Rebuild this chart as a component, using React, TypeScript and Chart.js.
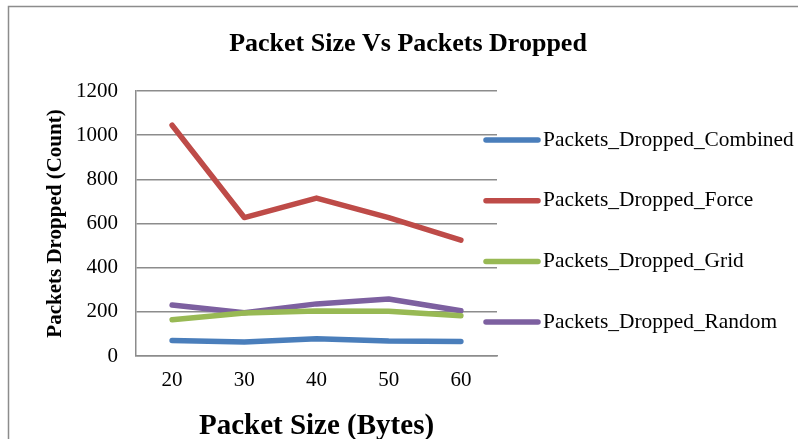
import React, { useEffect, useRef } from "react";
import { Chart, registerables } from "chart.js";

Chart.register(...registerables);

const categories = ["20", "30", "40", "50", "60"];
const combined = [70, 63, 78, 68, 66];
const force = [1045, 627, 715, 627, 525];
const grid = [164, 195, 204, 203, 182];
const random = [231, 196, 236, 258, 205];
const seriesNames = [
  "Packets_Dropped_Combined",
  "Packets_Dropped_Force",
  "Packets_Dropped_Grid",
  "Packets_Dropped_Random",
];
const seriesColors = ["#4A7EBB", "#BE4B48", "#98B954", "#7D60A0"];
const yTicks = [0, 200, 400, 600, 800, 1000, 1200];
const chartTitle = "Packet Size Vs Packets Dropped";

const FONT = "'Liberation Serif', 'Times New Roman', serif";

const frameAndLegend = {
  id: "frameAndLegend",
  afterDraw(chart: any) {
    const ctx = chart.ctx;
    ctx.save();
    // outer frame
    ctx.strokeStyle = "#8c8c8c";
    ctx.lineWidth = 1.5;
    ctx.beginPath();
    ctx.moveTo(8.5, 440);
    ctx.lineTo(8.5, 6.5);
    ctx.lineTo(800, 6.5);
    ctx.stroke();
    // title
    ctx.fillStyle = "#000";
    ctx.font = `bold 26px ${FONT}`;
    ctx.textAlign = "center";
    ctx.textBaseline = "middle";
    ctx.fillText(chartTitle, 408, 44);
    // legend
    const ds = chart.data.datasets;
    ctx.font = `21.4px ${FONT}`;
    ctx.textBaseline = "middle";
    ctx.textAlign = "left";
    ds.forEach((d: any, i: number) => {
      const y = 140 + i * 60.7;
      ctx.strokeStyle = d.borderColor;
      ctx.lineWidth = 5.5;
      ctx.lineCap = "round";
      ctx.beginPath();
      ctx.moveTo(486, y);
      ctx.lineTo(538, y);
      ctx.stroke();
      ctx.fillStyle = "#000";
      ctx.fillText(d.label, 543, y);
    });
    ctx.restore();
  },
};

export default function App() {
  const ref = useRef<HTMLCanvasElement>(null);
  useEffect(() => {
    if (!ref.current) return;
    const datasets = [combined, force, grid, random].map((data, i) => ({
      label: seriesNames[i],
      data,
      borderColor: seriesColors[i],
      backgroundColor: seriesColors[i],
      borderWidth: 5.5,
      pointRadius: 0,
      tension: 0,
      borderCapStyle: "round" as const,
      borderJoinStyle: "round" as const,
    }));
    const chart = new Chart(ref.current, {
      type: "line",
      data: { labels: categories, datasets },
      plugins: [frameAndLegend],
      options: {
        animation: false,
        responsive: false,
        layout: { padding: { left: 0, right: 301, top: 91, bottom: 0 } },
        plugins: {
          legend: { display: false },
          tooltip: { enabled: false },
          title: { display: false },
        },
        scales: {
          x: {
            offset: true,
            grid: { drawOnChartArea: false, drawTicks: false },
            border: { color: "#8c8c8c", width: 1.5 },
            ticks: { color: "#000", font: { family: FONT, size: 21 }, padding: 12 },
            title: {
              display: true,
              text: "Packet Size (Bytes)",
              color: "#000",
              font: { family: FONT, size: 29, weight: "bold" },
              padding: { top: 0, bottom: -5 },
            },
            afterFit(scale: any) {
              scale.height = 83;
            },
          },
          y: {
            min: 0,
            max: 1200,
            afterBuildTicks(scale: any) {
              scale.ticks = yTicks.map((v) => ({ value: v }));
            },
            grid: { color: "#8c8c8c", lineWidth: 1.5, drawTicks: false },
            border: { color: "#8c8c8c", width: 1.5 },
            ticks: {
              color: "#000",
              font: { family: FONT, size: 21 },
              padding: 18,
              callback: (v: any) => String(v),
            },
            title: {
              display: true,
              text: "Packets Dropped (Count)",
              color: "#000",
              font: { family: FONT, size: 21, weight: "bold" },
              padding: { top: 43, bottom: 0 },
            },
            afterFit(scale: any) {
              scale.width = 136;
            },
          },
        },
      },
    });
    return () => chart.destroy();
  }, []);
  return (
    <canvas
      ref={ref}
      width={798}
      height={439}
      style={{ position: "fixed", left: 0, top: 0, display: "block" }}
    />
  );
}
